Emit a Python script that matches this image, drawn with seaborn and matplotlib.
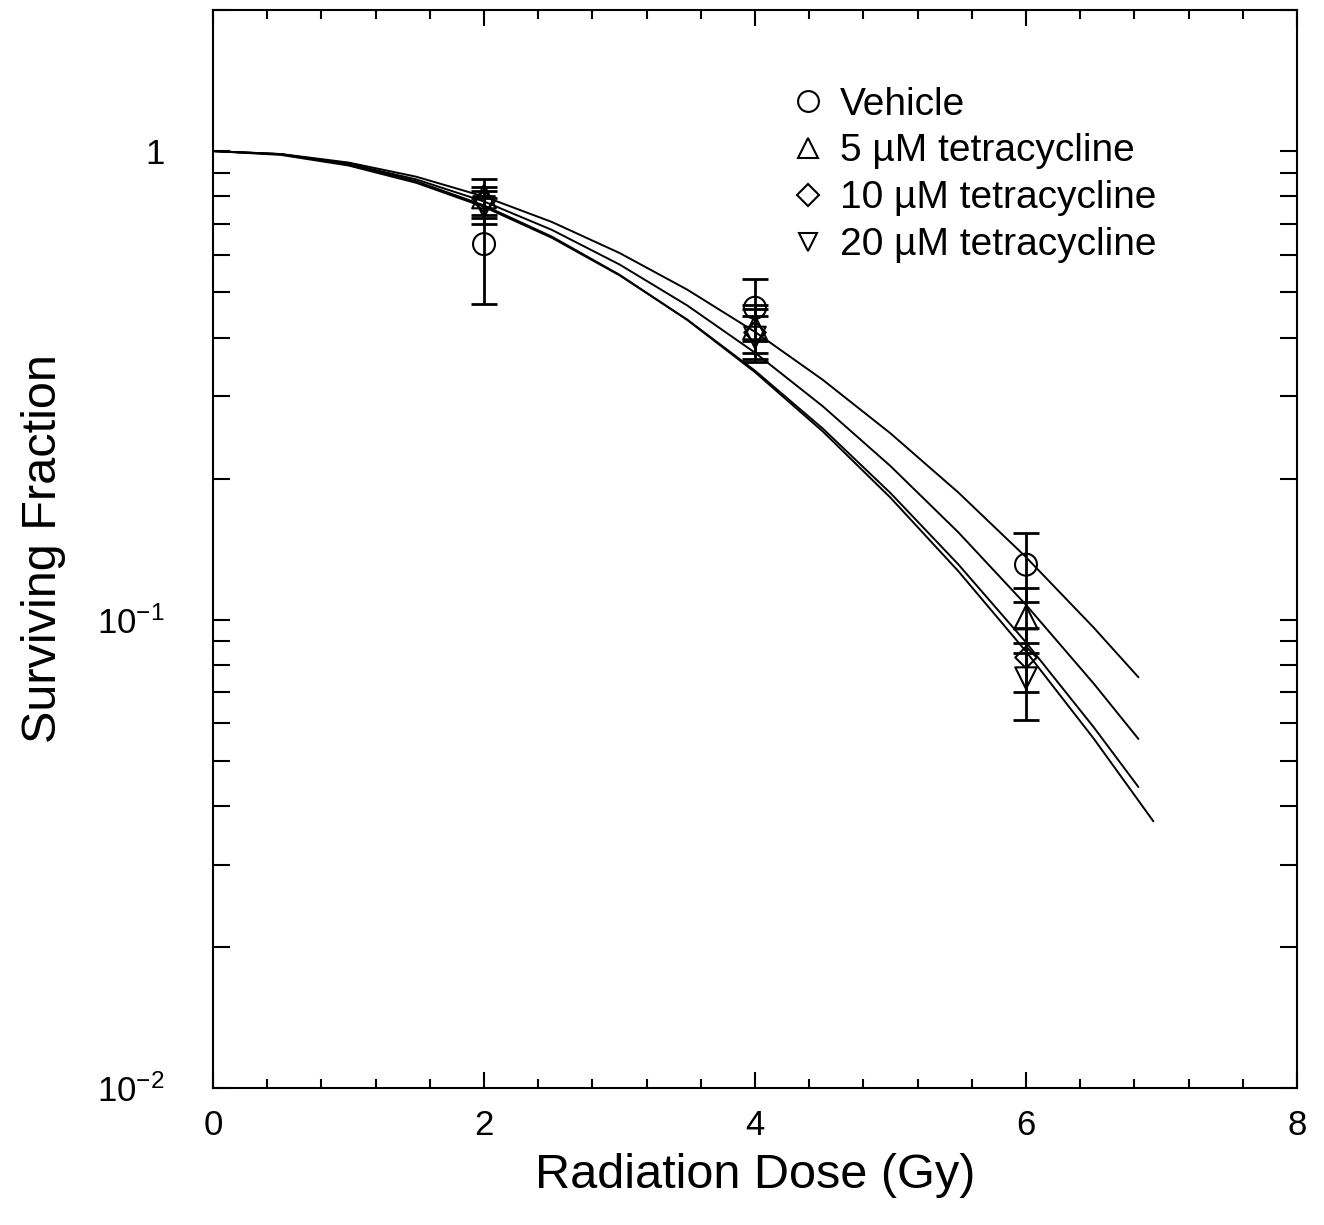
import numpy as np
import pandas as pd
import matplotlib
matplotlib.use('Agg')
import matplotlib.pyplot as plt
from matplotlib.lines import Line2D
from matplotlib.ticker import FixedLocator, FixedFormatter, MultipleLocator, LogLocator, NullFormatter
import seaborn as sns

sns.set_theme(style='white')
plt.rcParams['font.family'] = ['Liberation Sans', 'DejaVu Sans']
plt.rcParams['mathtext.default'] = 'regular'

# treatment groups
groups = ['Vehicle', '5 µM tetracycline', '10 µM tetracycline', '20 µM tetracycline']

# measured surviving fractions (mean +/- error) at each dose
dose = [2, 4, 6]
sf_vehicle = [0.633, 0.463, 0.131]
sf_5uM = [0.800, 0.420, 0.101]
sf_10uM = [0.780, 0.410, 0.083]
sf_20uM = [0.760, 0.400, 0.075]
err_vehicle = [0.161, 0.070, 0.022]
err_5uM = [0.070, 0.050, 0.016]
err_10uM = [0.060, 0.050, 0.013]
err_20uM = [0.060, 0.045, 0.014]

# fitted survival curves
fit_dose = [0, 0.5, 1, 1.5, 2, 2.5, 3, 3.5, 4, 4.5, 5, 5.5, 6, 6.5, 6.83]
fit_dose_20uM = [0, 0.5, 1, 1.5, 2, 2.5, 3, 3.5, 4, 4.5, 5, 5.5, 6, 6.5, 6.94]
fit_vehicle = [1.0, 0.9857, 0.9452, 0.8816, 0.7998, 0.7059, 0.6060, 0.5061,
               0.4112, 0.3249, 0.2497, 0.1868, 0.1359, 0.0961, 0.0753]
fit_5uM = [1.0, 0.9846, 0.9399, 0.8699, 0.7806, 0.6790, 0.5727, 0.4682,
           0.3712, 0.2853, 0.2126, 0.1536, 0.1075, 0.0730, 0.0556]
fit_10uM = [1.0, 0.9813, 0.9315, 0.8555, 0.7600, 0.6531, 0.5430, 0.4367,
            0.3398, 0.2557, 0.1862, 0.1312, 0.0894, 0.0589, 0.0439]
fit_20uM = [1.0, 0.9851, 0.9376, 0.8620, 0.7656, 0.6569, 0.5445, 0.4360,
            0.3373, 0.2521, 0.1820, 0.1269, 0.0855, 0.0557, 0.0371]

points = [(sf_vehicle, err_vehicle), (sf_5uM, err_5uM), (sf_10uM, err_10uM), (sf_20uM, err_20uM)]
fits = [(fit_dose, fit_vehicle), (fit_dose, fit_5uM), (fit_dose, fit_10uM), (fit_dose_20uM, fit_20uM)]

markers = ['o', '^', 'D', 'v']
msizes = [250, 290, 120, 240]

curves = pd.concat([pd.DataFrame({'dose': d, 'sf': s, 'group': g})
                    for (d, s), g in zip(fits, groups)], ignore_index=True)

fig = plt.figure(figsize=(13.24, 12.25), dpi=100)
ax = fig.add_axes([0.1609, 0.1118, 0.8187, 0.88])

sns.lineplot(data=curves, x='dose', y='sf', hue='group', palette=['black'] * 4,
             estimator=None, sort=False, legend=False, linewidth=1.4, ax=ax)

for (sf, err), m, s in zip(points, markers, msizes):
    ax.errorbar(dose, sf, yerr=err, fmt='none', ecolor='black', elinewidth=2,
                capsize=9.5, capthick=2, zorder=3)
    sns.scatterplot(x=dose, y=sf, marker=m, s=s, facecolor='none', edgecolor='black',
                    linewidth=1.5, zorder=4, ax=ax)

ax.set_yscale('log')
ax.set_xlim(0, 8)
ax.set_ylim(0.01, 2)

ax.xaxis.set_major_locator(FixedLocator([0, 2, 4, 6, 8]))
ax.xaxis.set_minor_locator(MultipleLocator(0.4))
ax.yaxis.set_major_locator(FixedLocator([0.01, 0.1, 1]))
ax.yaxis.set_major_formatter(FixedFormatter(['$10^{-2}$', '$10^{-1}$', '1']))
ax.yaxis.set_minor_locator(LogLocator(base=10, subs=np.arange(2, 10)))
ax.yaxis.set_minor_formatter(NullFormatter())

ax.tick_params(which='both', direction='in', bottom=True, left=True, top=True, right=True,
               color='black', width=1.5, labelsize=25, labelcolor='black')
ax.tick_params(axis='x', which='major', length=11.5, pad=15)
ax.tick_params(axis='x', which='minor', length=6.5)
ax.tick_params(axis='y', which='both', length=12, pad=35)

for sp in ax.spines.values():
    sp.set_color('black')
    sp.set_linewidth(1.5)

ax.set_xlabel('Radiation Dose (Gy)', fontsize=35, labelpad=8, color='black')
ax.set_ylabel('Surviving Fraction', fontsize=35, labelpad=22, color='black')

handles = [Line2D([], [], linestyle='none', marker=m, markersize=ms, markerfacecolor='none',
                  markeredgecolor='black', markeredgewidth=1.5)
           for m, ms in zip(markers, [15, 15, 11, 13])]
ax.legend(handles, groups, loc='upper left', bbox_to_anchor=(0.531, 0.929), frameon=False,
          fontsize=28, labelcolor='black', handlelength=1.0, handletextpad=0.32,
          borderpad=0, borderaxespad=0, labelspacing=0.28)

fig.savefig('out.png', dpi=100, facecolor='white')
